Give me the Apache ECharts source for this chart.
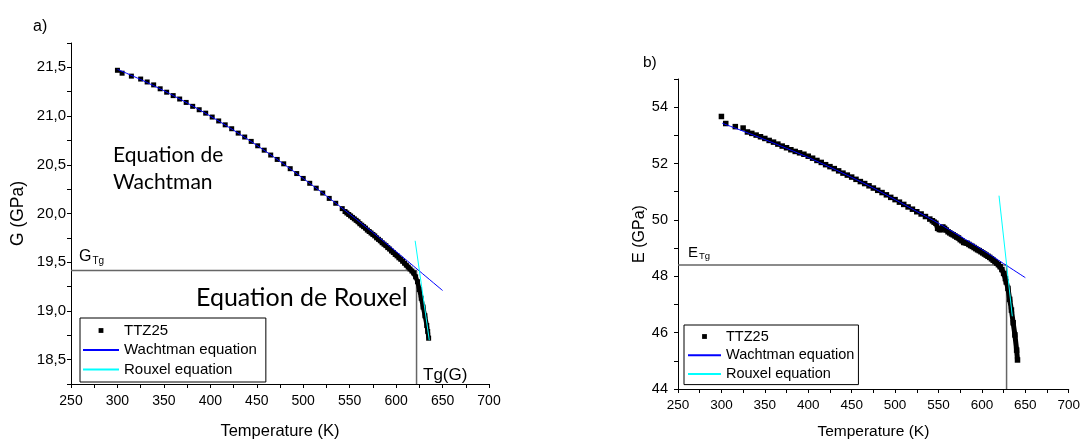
<!DOCTYPE html>
<html><head><meta charset="utf-8">
<script src="https://cdn.jsdelivr.net/npm/echarts@6/dist/echarts.min.js"></script>
<style>html,body{margin:0;padding:0;background:#fff}#c{width:1083px;height:445px}</style>
</head><body><div id="c"></div>
<script>
// ---------- data ----------
const xTickLabels = [250, 300, 350, 400, 450, 500, 550, 600, 650, 700];
const gTickLabels = [18.5, 19.0, 19.5, 20.0, 20.5, 21.0, 21.5];
const eTickLabels = [44, 46, 48, 50, 52, 54];
const seriesNames = ['TTZ25', 'Wachtman equation', 'Rouxel equation'];

// a) shear modulus G (GPa) — separate measured points
const gT = [300,305,315,325,332,339,346,353,360,367,374,381,388,395,402,409,416,423,430,437,444,451,458,465,472,479,486,493,500,507,514,521,528,535,542];
const gVal = [21.47,21.44,21.41,21.38,21.35,21.32,21.28,21.245,21.21,21.175,21.14,21.10,21.065,21.03,20.99,20.95,20.91,20.87,20.825,20.785,20.74,20.695,20.65,20.60,20.555,20.51,20.46,20.41,20.36,20.31,20.26,20.21,20.155,20.105,20.05];
// a) dense measured points near Tg
const gTDense = [545,547,549,551,553,555,557,559,561,563,565,567,569,571,573,575,577,579,581,583,585,587,589,591,593,595,597,599,601,603,605,607,609,611,613,615,617,619,621,623,625,627,629,631,633,634,635];
const gValDense = [20.02,20.005,19.99,19.975,19.96,19.945,19.93,19.915,19.895,19.88,19.865,19.85,19.83,19.815,19.80,19.785,19.77,19.75,19.735,19.72,19.70,19.685,19.67,19.65,19.635,19.615,19.60,19.58,19.565,19.545,19.53,19.51,19.49,19.47,19.45,19.43,19.41,19.39,19.35,19.30,19.22,19.13,19.04,18.95,18.85,18.79,18.72];
const wachGT = [300,325,350,375,400,425,450,475,500,525,550,575,600,625,650];
const wachGVal = [21.48,21.375,21.26,21.135,21.0,20.855,20.70,20.535,20.36,20.18,19.995,19.805,19.61,19.41,19.21];
const rouxGT = [620.5, 635.7];
const rouxGVal = [19.72, 18.70];
const tgGT = [250, 622, 622];
const tgGVal = [19.415, 19.415, 18.25];

// b) Young's modulus E (GPa) — separate measured points
const eT = [300,305,316,325,330,335,340,345,350,355,360,365,370,375,380,385,390,395,400,405,410,415,420,425,430,435,440,445,450,455,460,465,470,475,480,485,490,495,500,505,510,515,520,525,530,535,540];
const eVal = [53.67,53.42,53.31,53.26,53.12,53.07,53.01,52.95,52.89,52.82,52.76,52.69,52.62,52.56,52.49,52.43,52.38,52.33,52.26,52.19,52.11,52.04,51.96,51.89,51.82,51.74,51.66,51.59,51.52,51.44,51.36,51.29,51.21,51.13,51.05,50.97,50.89,50.80,50.72,50.63,50.55,50.46,50.38,50.29,50.21,50.12,50.03];
// b) dense measured points near Tg
const eTDense = [543,545,547,549,551,553,555,557,559,561,563,565,567,569,571,573,575,577,579,581,583,585,587,589,591,593,595,597,599,601,603,605,607,609,611,613,615,617,619,621,623,625,627,628,630,632,634,636,638,640,641];
const eValDense = [49.97,49.92,49.88,49.70,49.66,49.65,49.75,49.70,49.64,49.58,49.54,49.50,49.47,49.43,49.39,49.36,49.30,49.26,49.20,49.19,49.17,49.13,49.09,49.06,49.02,48.98,48.94,48.91,48.87,48.83,48.79,48.75,48.71,48.67,48.62,48.57,48.52,48.47,48.41,48.34,48.24,48.10,47.92,47.80,47.57,47.18,46.80,46.35,45.92,45.38,45.03];
const wachET = [301,325,350,375,400,425,450,475,500,525,550,575,600,625,650];
const wachEVal = [53.43,53.15,52.85,52.54,52.215,51.87,51.51,51.13,50.72,50.30,49.88,49.42,48.95,48.45,47.95];
const rouxET = [619.7, 635];
const rouxEVal = [50.86, 46.58];
const tgET = [250, 628.4, 628.4];
const tgEVal = [48.40, 48.40, 44];

// ---------- chart ----------
const FONT = "'Liberation Sans', Arial, sans-serif";
const ANN = "Lato, 'Open Sans', sans-serif";
const pairs = (xs, ys) => xs.map((x, i) => [x, ys[i]]);

function xAxis(grid, fs, nameFs, nameGap, margin) {
  return {
    type: 'value', gridIndex: grid, min: 250, max: 700, interval: 25,
    name: 'Temperature (K)', nameLocation: 'middle', nameGap,
    nameTextStyle: { fontFamily: FONT, fontSize: nameFs, color: '#000' },
    axisLine: { show: true, onZero: false, lineStyle: { color: '#000', width: 1 } },
    axisTick: { show: true, inside: false, length: 4, lineStyle: { color: '#000' } },
    axisLabel: { fontFamily: FONT, fontSize: fs, color: '#000', margin,
      formatter: v => xTickLabels.some(t => Math.abs(t - v) < 1e-6) ? String(Math.round(v)) : '' },
    splitLine: { show: false }
  };
}
function yAxis(grid, name, min, max, interval, labels, fmt, fs, nameFs, nameGap, margin) {
  return {
    type: 'value', gridIndex: grid, min, max, interval,
    name, nameLocation: 'middle', nameGap,
    nameTextStyle: { fontFamily: FONT, fontSize: nameFs, color: '#000' },
    axisLine: { show: true, onZero: false, lineStyle: { color: '#000', width: 1 } },
    axisTick: { show: true, inside: false, length: 4, lineStyle: { color: '#000' } },
    axisLabel: { fontFamily: FONT, fontSize: fs, color: '#000', margin,
      formatter: v => { const l = labels.find(t => Math.abs(t - v) < 1e-6); return l === undefined ? '' : fmt(l); } },
    splitLine: { show: false }
  };
}
function seriesSet(gi, dT, dV, dTD, dVD, wT, wV, rT, rV, tT, tV, sym, thick) {
  return [
    { type: 'line', name: 'Tg', xAxisIndex: gi, yAxisIndex: gi, data: pairs(tT, tV), symbol: 'none',
      lineStyle: { color: '#666', width: 1.5 }, z: 1, silent: true },
    { type: 'line', name: seriesNames[0], xAxisIndex: gi, yAxisIndex: gi, data: pairs(dT, dV),
      symbol: 'rect', symbolSize: sym, showAllSymbol: true, itemStyle: { color: '#000' },
      lineStyle: { width: 0, opacity: 0 }, z: 2 },
    { type: 'line', name: seriesNames[0], xAxisIndex: gi, yAxisIndex: gi, data: pairs(dTD, dVD),
      symbol: 'rect', symbolSize: sym, showAllSymbol: true, itemStyle: { color: '#000' },
      lineStyle: { color: '#000', width: thick }, z: 2 },
    { type: 'line', name: seriesNames[1], xAxisIndex: gi, yAxisIndex: gi, data: pairs(wT, wV), symbol: 'none', smooth: 0.3,
      itemStyle: { color: '#0000ff' }, lineStyle: { color: '#0000ff', width: 1 }, z: 3 },
    { type: 'line', name: seriesNames[2], xAxisIndex: gi, yAxisIndex: gi, data: pairs(rT, rV), symbol: 'none',
      itemStyle: { color: '#00ffff' }, lineStyle: { color: '#00ffff', width: 1 }, z: 4 }
  ];
}
function legend(left, top, fs, itemW, gap, padding) {
  return {
    left, top, orient: 'vertical', selectedMode: false,
    itemWidth: itemW, itemHeight: 6, itemGap: gap, padding,
    borderColor: '#000', borderWidth: 1, backgroundColor: '#fff',
    textStyle: { fontFamily: FONT, fontSize: fs, color: '#000' },
    data: [
      { name: seriesNames[0] },
      { name: seriesNames[1], itemStyle: { opacity: 0 } },
      { name: seriesNames[2], itemStyle: { opacity: 0 } }
    ]
  };
}

const chart = echarts.init(document.getElementById('c'), null, { renderer: 'canvas' });
chart.setOption({
  animation: false,
  backgroundColor: '#fff',
  grid: [
    { left: 71, top: 43, width: 418, height: 346 },
    { left: 678, top: 79, width: 393, height: 317 }
  ],
  xAxis: [xAxis(0, 14, 16.5, 39, 10), xAxis(1, 13.5, 15.5, 35, 9)],
  yAxis: [
    yAxis(0, 'G (GPa)', 18.25, 21.75, 0.25, gTickLabels, l => l.toFixed(1).replace('.', ','), 15, 17.5, 44, 5),
    yAxis(1, 'E (GPa)', 44, 55, 1, eTickLabels, l => String(l), 14.5, 16, 26, 10)
  ],
  legend: [
    legend(80, 318, 15, 36, 4.5, [5, 9, 5, 2]),
    legend(684, 325, 14.5, 33, 3.8, [4, 4, 3, 3])
  ],
  series: [
    ...seriesSet(0, gT, gVal, gTDense, gValDense, wachGT, wachGVal, rouxGT, rouxGVal, tgGT, tgGVal, 5, 4.5),
    ...seriesSet(1, eT, eVal, eTDense, eValDense, wachET, wachEVal, rouxET, rouxEVal, tgET, tgEVal, 5.5, 5)
  ],
  graphic: [
    { type: 'text', left: 33, top: 19, style: { text: 'a)', font: '16px ' + FONT, fill: '#000' } },
    { type: 'text', left: 643, top: 55, style: { text: 'b)', font: '15.5px ' + FONT, fill: '#000' } },
    { type: 'text', left: 113, top: 142, style: { text: 'Equation de\nWachtman', fontFamily: ANN, fontSize: 21, lineHeight: 27, fill: '#000' } },
    { type: 'text', left: 196, top: 285, style: { text: 'Equation de Rouxel', fontFamily: ANN, fontSize: 25, fill: '#000' } },
    { type: 'text', left: 79, top: 249, style: { text: '{g|G}{s|Tg}', rich: { g: { fontFamily: FONT, fontSize: 16, fill: '#000' }, s: { fontFamily: FONT, fontSize: 10, fill: '#000', padding: [9, 0, 0, 1] } } } },
    { type: 'text', left: 688, top: 245, style: { text: '{g|E}{s|Tg}', rich: { g: { fontFamily: FONT, fontSize: 15, fill: '#000' }, s: { fontFamily: FONT, fontSize: 9.5, fill: '#000', padding: [8, 0, 0, 1] } } } },
    { type: 'text', left: 423, top: 367, style: { text: 'Tg(G)', font: '17px ' + FONT, fill: '#000' } }
  ]
});
</script></body></html>
